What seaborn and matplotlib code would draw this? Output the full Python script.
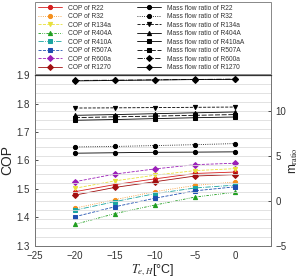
import numpy as np
import pandas as pd
import seaborn as sns
from matplotlib import pyplot as plt
from matplotlib.patches import Rectangle

sns.set_style("white")
plt.rcParams["font.family"] = ["Liberation Sans", "DejaVu Sans"]
plt.rcParams["mathtext.fontset"] = "stix"

temps = [-20, -15, -10, -5, 0]
refrigerants = ["R22", "R32", "R134a", "R404A", "R410A", "R507A", "R600a", "R1270"]
ratio_names = ["R22", "R32", "R134a", "R404A", "R410aA", "R507A", "R600a", "R1270"]

cop_r22 = [1.490, 1.515, 1.535, 1.554, 1.559]
cop_r32 = [1.432, 1.462, 1.490, 1.512, 1.524]
cop_r134a = [1.502, 1.528, 1.548, 1.564, 1.571]
cop_r404a = [1.375, 1.413, 1.443, 1.471, 1.488]
cop_r410a = [1.425, 1.455, 1.483, 1.503, 1.513]
cop_r507a = [1.402, 1.437, 1.467, 1.493, 1.507]
cop_r600a = [1.525, 1.552, 1.570, 1.585, 1.590]
cop_r1270 = [1.478, 1.505, 1.525, 1.545, 1.550]

ratio_r22 = [5.30, 5.35, 5.40, 5.42, 5.45]
ratio_r32 = [6.00, 6.05, 6.15, 6.25, 6.37]
ratio_r134a = [10.33, 10.35, 10.38, 10.41, 10.44]
ratio_r404a = [9.52, 9.60, 9.70, 9.80, 9.89]
ratio_r410a = [8.97, 9.05, 9.15, 9.25, 9.33]
ratio_r507a = [9.26, 9.35, 9.43, 9.52, 9.60]
ratio_r600a = [13.40, 13.43, 13.47, 13.51, 13.55]
ratio_r1270 = [13.35, 13.40, 13.45, 13.50, 13.52]

cop_values = [cop_r22, cop_r32, cop_r134a, cop_r404a, cop_r410a, cop_r507a, cop_r600a, cop_r1270]
ratio_values = [ratio_r22, ratio_r32, ratio_r134a, ratio_r404a, ratio_r410a, ratio_r507a, ratio_r600a, ratio_r1270]

colors = ["#d62020", "#f5901e", "#e8e03a", "#1f9e1f", "#1aa5a0", "#1f4fb0", "#9b1fb8", "#a01010"]
markers = ["o", "o", "v", "^", "s", "s", "D", "D"]
cop_styles = ["-", ":", "--", (0, (3, 1.5, 1, 1.5, 1, 1.5)), "-.", "--", "--", "-"]
ratio_styles = ["-", ":", "--", "-", "-", (0, (6, 2)), "-.", "-"]

fig = plt.figure(figsize=(3.01, 2.77), dpi=100)
ax = fig.add_axes([0.1163, 0.113, 0.784, 0.616])
ax2 = ax.twinx()

cop_handles = []
for name, vals, c, m, ls in zip(refrigerants, cop_values, colors, markers, cop_styles):
    df = pd.DataFrame({"T": temps, "v": vals})
    sns.lineplot(data=df, x="T", y="v", ax=ax, color=c, marker=m, markersize=3,
                 markeredgecolor=c, linestyle=ls, linewidth=0.6, label=f"COP of {name}",
                 legend=False)
    cop_handles.append(ax.lines[-1])

ratio_handles = []
for name, vals, m, ls in zip(ratio_names, ratio_values, markers, ratio_styles):
    df = pd.DataFrame({"T": temps, "v": vals})
    sns.lineplot(data=df, x="T", y="v", ax=ax2, color="black", marker=m, markersize=3,
                 markeredgecolor="black", linestyle=ls, linewidth=0.6,
                 label=f"Mass flow ratio of {name}", legend=False)
    ratio_handles.append(ax2.lines[-1])

ax.set_xlim(-25, 4.5)
ax.set_ylim(1.3, 1.9)
ax.set_yticks(np.arange(1.3, 1.91, 0.1))
ax.set_xticks([-25, -20, -15, -10, -5, 0])
ax2.set_ylim(-5, 14)
ax2.set_yticks([-5, 0, 5, 10])
ax2.set_yticks(np.arange(-5, 15, 1), minor=True)

ax.set_axisbelow(True)
ax2.grid(which="minor", axis="y", color="#dddddd", linewidth=0.6)
ax2.grid(which="major", axis="y", color="#dddddd", linewidth=0.6)
ax2.set_axisbelow(True)

for a in (ax, ax2):
    a.tick_params(direction="in", labelsize=7, length=2.5, colors="#333333", width=0.6)
    a.tick_params(which="minor", length=0)
    for sp in a.spines.values():
        sp.set_color("#777777")
        sp.set_linewidth(0.7)
ax2.spines["top"].set_color("#333333")
ax2.spines["top"].set_linewidth(0.9)
ax2.tick_params(axis="y", pad=3)

ax.set_xlabel(r"$T_{e,H}$[°C]", fontsize=9, labelpad=1)
ax.set_ylabel("COP", fontsize=10, labelpad=2)
ax2.set_ylabel(r"m$_{\mathrm{ratio}}$", fontsize=8.5, labelpad=1)

# legend frame spans the full axes width, entries sit in the left part
fig.patches.append(Rectangle((35 / 301, 1 - 74 / 277), 236 / 301, 72 / 277,
                             transform=fig.transFigure, fill=False,
                             edgecolor="#888888", linewidth=0.7))
leg = fig.legend(cop_handles + ratio_handles,
                 [h.get_label() for h in cop_handles + ratio_handles],
                 loc="lower left", bbox_to_anchor=(36 / 301, 1 - 73 / 277, 210 / 301, 70 / 277),
                 mode="expand", ncol=2, fontsize=4.8, frameon=False,
                 borderaxespad=0, labelspacing=0.22,
                 handlelength=3.6, handletextpad=0.9, columnspacing=1.0,
                 borderpad=0.3)
for t in leg.get_texts():
    t.set_color("#333333")

fig.savefig("out.png", dpi=100)
